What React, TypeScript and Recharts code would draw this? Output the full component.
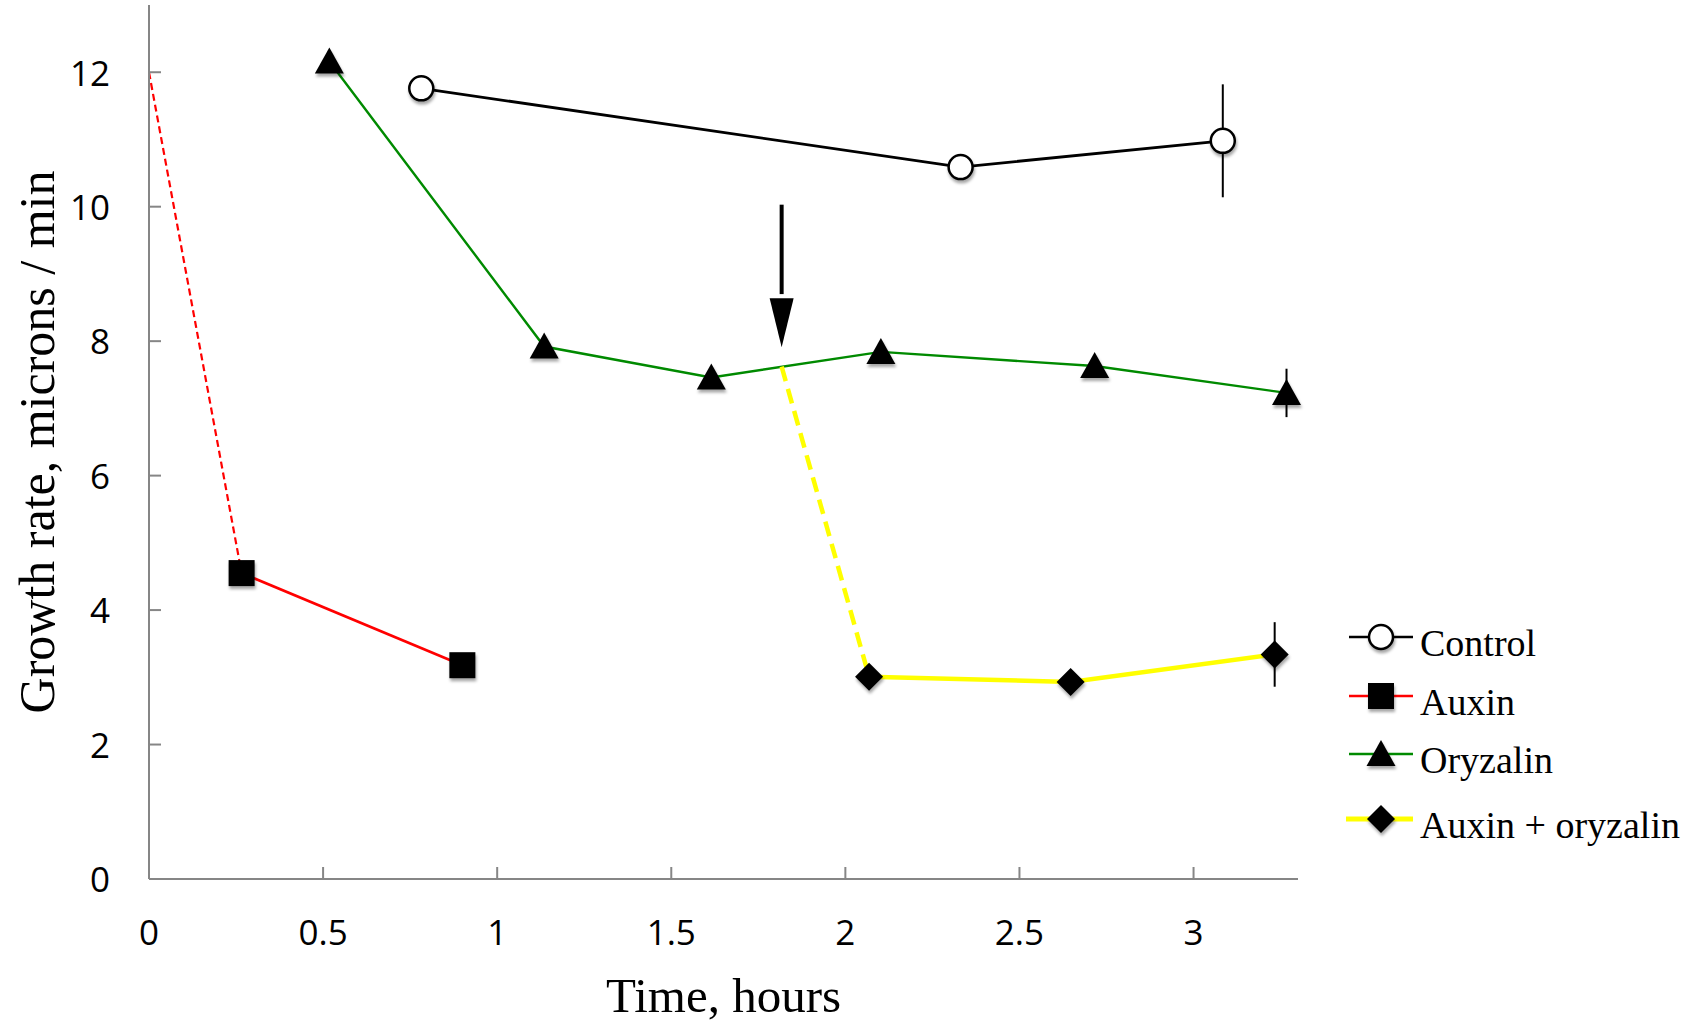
import React from 'react';
import {
  LineChart,
  Line,
  XAxis,
  YAxis,
  ErrorBar,
  Legend,
  ReferenceLine,
  ReferenceDot,
} from 'recharts';

// ticks
const xTicks = [0, 0.5, 1, 1.5, 2, 2.5, 3];
const yTicks = [0, 2, 4, 6, 8, 10, 12];

// series values (time in hours, growth rate in microns / min)
const controlData = [
  { x: 0.782, y: 11.76, err: 0 },
  { x: 2.331, y: 10.59, err: 0 },
  { x: 3.084, y: 10.98, err: 0.84 },
];

const auxinData = [
  { x: 0.266, y: 4.55 },
  { x: 0.9, y: 3.18 },
];

// dashed drop from time zero to the first auxin reading
const auxinDrop = [
  { x: 0, y: 12 },
  { x: 0.266, y: 4.55 },
];

const oryzalinData = [
  { x: 0.518, y: 12.16, err: 0 },
  { x: 1.135, y: 7.92, err: 0 },
  { x: 1.615, y: 7.46, err: 0 },
  { x: 2.102, y: 7.84, err: 0 },
  { x: 2.716, y: 7.63, err: 0 },
  { x: 3.267, y: 7.23, err: 0.36 },
];

const comboData = [
  { x: 2.068, y: 3.01, err: 0 },
  { x: 2.647, y: 2.93, err: 0 },
  { x: 3.233, y: 3.34, err: 0.48 },
];

// dashed drop from the oryzalin line (auxin added) to the first combo reading
const comboDrop = [
  { x: 1.817, y: 7.62 },
  { x: 2.068, y: 3.01 },
];

// arrow marking when auxin was added
const arrowX = 1.817;
const arrowTop = 10.03;
const arrowNeck = 8.7;
const arrowTip = 7.91;

const legendItems = [
  { name: 'Control', color: '#000000', width: 2.5, marker: 'circle' },
  { name: 'Auxin', color: '#ff0000', width: 2.5, marker: 'square' },
  { name: 'Oryzalin', color: '#008a00', width: 2.5, marker: 'triangle' },
  { name: 'Auxin + oryzalin', color: '#ffff00', width: 5, marker: 'diamond' },
];

const AXIS = '#868686';
const SERIF = '"Liberation Serif", "Times New Roman", serif';
const SANS = '"Open Sans", "Noto Sans", sans-serif';
const X_GAP = 41;
const Y_GAP = 39;

function Marker({ kind, cx, cy }: { kind: string; cx?: number; cy?: number }) {
  if (cx == null || cy == null || isNaN(cx) || isNaN(cy)) return null;
  const f = 'url(#mk-shadow)';
  if (kind === 'circle') {
    return <circle cx={cx} cy={cy} r={12} fill="#fff" stroke="#000" strokeWidth={2.5} filter={f} />;
  }
  if (kind === 'square') {
    return <rect x={cx - 13} y={cy - 13} width={26} height={26} fill="#000" filter={f} />;
  }
  if (kind === 'triangle') {
    return (
      <polygon
        points={`${cx},${cy - 14} ${cx + 14.5},${cy + 12} ${cx - 14.5},${cy + 12}`}
        fill="#000"
        filter={f}
      />
    );
  }
  return (
    <polygon
      points={`${cx},${cy - 14} ${cx + 14},${cy} ${cx},${cy + 14} ${cx - 14},${cy}`}
      fill="#000"
      filter={f}
    />
  );
}

const dotOf = (kind: string) => (p: any) => <Marker key={`${kind}-${p.index}`} kind={kind} cx={p.cx} cy={p.cy} />;

function XTick({ x, y, payload }: any) {
  return (
    <g>
      <line x1={x} x2={x} y1={y - X_GAP} y2={y - X_GAP - 12} stroke={AXIS} strokeWidth={2} />
      <text x={x} y={y} dy="0.72em" textAnchor="middle" fontFamily={SANS} fontSize={35} fill="#000">
        {String(payload.value)}
      </text>
    </g>
  );
}

function YTick({ x, y, payload }: any) {
  return (
    <g>
      <line x1={x + Y_GAP} x2={x + Y_GAP + 12} y1={y} y2={y} stroke={AXIS} strokeWidth={2} />
      <text x={x} y={y} dy="0.38em" textAnchor="end" fontFamily={SANS} fontSize={35} fill="#000">
        {String(payload.value)}
      </text>
    </g>
  );
}

function LegendContent() {
  const rows = [37, 96, 154, 219];
  return (
    <svg width={363} height={260}>
      {legendItems.map((item, i) => (
        <g key={item.name}>
          <line
            x1={item.marker === 'diamond' ? 16 : 19}
            x2={83}
            y1={rows[i]}
            y2={rows[i]}
            stroke={item.color}
            strokeWidth={item.width}
          />
          <Marker kind={item.marker} cx={51} cy={rows[i]} />
          <text x={90} y={rows[i] + 19} fontFamily={SERIF} fontSize={38} fill="#000">
            {item.name}
          </text>
        </g>
      ))}
    </svg>
  );
}

export default function App() {
  return (
    <div style={{ position: 'absolute', left: 0, top: 0, background: '#fff' }}>
      <svg width={0} height={0} style={{ position: 'absolute' }}>
        <defs>
          <filter id="mk-shadow" x="-50%" y="-50%" width="200%" height="200%">
            <feDropShadow dx="1" dy="3" stdDeviation="1.5" floodColor="#000" floodOpacity="0.35" />
          </filter>
        </defs>
      </svg>
      <LineChart width={1693} height={1032} margin={{ top: 5, right: 395, bottom: 0, left: 0 }}>
        <XAxis
          type="number"
          dataKey="x"
          domain={[0, 3.3]}
          ticks={xTicks}
          interval={0}
          height={153}
          tickSize={0}
          tickMargin={X_GAP}
          tickLine={false}
          tick={<XTick />}
          axisLine={{ stroke: AXIS, strokeWidth: 2 }}
          label={(p: any) => {
            const vb = p.viewBox;
            return (
              <text x={vb.x + vb.width / 2} y={vb.y + 133} textAnchor="middle" fontFamily={SERIF} fontSize={49} fill="#000">
                Time, hours
              </text>
            );
          }}
        />
        <YAxis
          type="number"
          domain={[0, 13]}
          ticks={yTicks}
          interval={0}
          width={149}
          tickSize={0}
          tickMargin={Y_GAP}
          tickLine={false}
          tick={<YTick />}
          axisLine={{ stroke: AXIS, strokeWidth: 2 }}
          label={(p: any) => {
            const vb = p.viewBox;
            const cx = vb.x + 54;
            const cy = vb.y + vb.height / 2;
            return (
              <text
                x={cx}
                y={cy}
                transform={`rotate(-90 ${cx} ${cy})`}
                textAnchor="middle"
                fontFamily={SERIF}
                fontSize={50}
                fill="#000"
              >
                Growth rate, microns / min
              </text>
            );
          }}
        />
        <Legend
          layout="vertical"
          align="center"
          verticalAlign="middle"
          wrapperStyle={{ left: 1330, top: 600, width: 363 }}
          content={<LegendContent />}
        />

        <Line
          data={controlData}
          dataKey="y"
          type="linear"
          stroke="#000"
          strokeWidth={2.8}
          dot={false}
          activeDot={false}
          isAnimationActive={false}
        >
          <ErrorBar dataKey="err" direction="y" width={0} stroke="#000" strokeWidth={2} />
        </Line>
        {/* control markers drawn again on top so the error bar sits behind the open circle */}
        <Line
          data={controlData}
          dataKey="y"
          type="linear"
          stroke="none"
          dot={dotOf('circle')}
          activeDot={false}
          legendType="none"
          isAnimationActive={false}
        />
        <Line
          data={auxinData}
          dataKey="y"
          type="linear"
          stroke="#ff0000"
          strokeWidth={2.6}
          dot={dotOf('square')}
          activeDot={false}
          isAnimationActive={false}
        />
        <Line
          data={auxinDrop}
          dataKey="y"
          type="linear"
          stroke="#ff0000"
          strokeWidth={2.2}
          strokeDasharray="7 4"
          dot={false}
          activeDot={false}
          isAnimationActive={false}
        />
        <Line
          data={oryzalinData}
          dataKey="y"
          type="linear"
          stroke="#008a00"
          strokeWidth={2.4}
          dot={dotOf('triangle')}
          activeDot={false}
          isAnimationActive={false}
        >
          <ErrorBar dataKey="err" direction="y" width={0} stroke="#000" strokeWidth={2} />
        </Line>
        <Line
          data={comboData}
          dataKey="y"
          type="linear"
          stroke="#ffff00"
          strokeWidth={4.5}
          dot={dotOf('diamond')}
          activeDot={false}
          isAnimationActive={false}
        >
          <ErrorBar dataKey="err" direction="y" width={0} stroke="#000" strokeWidth={2} />
        </Line>
        <Line
          data={comboDrop}
          dataKey="y"
          type="linear"
          stroke="#ffff00"
          strokeWidth={4.5}
          strokeDasharray="15 8"
          dot={false}
          activeDot={false}
          isAnimationActive={false}
        />

        <ReferenceLine
          segment={[
            { x: arrowX, y: arrowTop },
            { x: arrowX, y: arrowNeck },
          ]}
          stroke="#000"
          strokeWidth={4}
          ifOverflow="visible"
        />
        <ReferenceDot
          x={arrowX}
          y={arrowTip}
          r={0}
          ifOverflow="visible"
          shape={(p: any) => (
            <polygon
              points={`${p.cx},${p.cy} ${p.cx - 12},${p.cy - 49} ${p.cx + 12},${p.cy - 49}`}
              fill="#000"
            />
          )}
        />
      </LineChart>
    </div>
  );
}
